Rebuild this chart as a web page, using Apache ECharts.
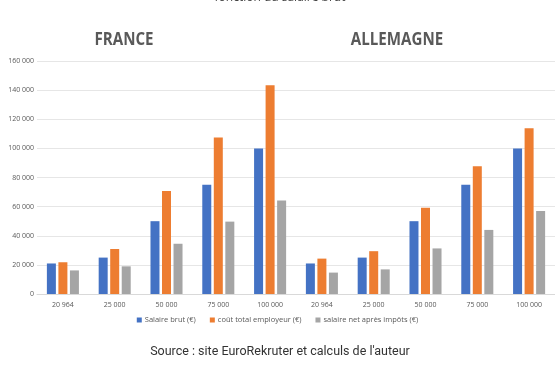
<!DOCTYPE html>
<html><head><meta charset="utf-8">
<script src="https://cdn.jsdelivr.net/npm/echarts@6/dist/echarts.min.js"></script>
<style>html,body{margin:0;padding:0;background:#fff}#c{width:555px;height:370px}</style>
</head><body><div id="c"></div>
<script>
const categories = ['20 964','25 000','50 000','75 000','100 000','20 964','25 000','50 000','75 000','100 000'];
const salaireBrut = [20964,25000,50000,75000,100000,20964,25000,50000,75000,100000];
const coutEmployeur = [21800,30900,70700,107500,143300,24300,29400,59200,87700,113900];
const salaireNet = [16200,19000,34500,49700,64200,14700,16900,31300,44000,57000];
const yTicks = [0,20000,40000,60000,80000,100000,120000,140000,160000];
const seriesNames = ['Salaire brut (€)','coût total employeur (€)','salaire net après impôts (€)'];

const fmt = v => String(v).replace(/\B(?=(\d{3})+(?!\d))/g,' ');
const chart = echarts.init(document.getElementById('c'));
const colors = ['#4472C4','#ED7D31','#A5A5A5'];
const mk = (name, data, i) => ({name, type:'bar', data, barWidth:9, barGap:'28%', itemStyle:{color:colors[i]}});
const headFont = 'bold 18px "Open Sans"';
chart.setOption({
  animation:false,
  textStyle:{fontFamily:'Open Sans'},
  graphic:[
    {type:'text', x:280, y:4, style:{text:'fonction du salaire brut', font:'12px "Open Sans"', fill:'#444', align:'center', verticalAlign:'bottom'}},
    {type:'text', x:124, y:40, scaleX:0.84, style:{text:'FRANCE', font:headFont, fill:'#595959', align:'center', verticalAlign:'middle'}},
    {type:'text', x:397, y:40, scaleX:0.84, style:{text:'ALLEMAGNE', font:headFont, fill:'#595959', align:'center', verticalAlign:'middle'}},
    {type:'text', x:280, y:352, style:{text:"Source : site EuroRekruter et calculs de l'auteur", font:'12.5px Roboto', fill:'#333', align:'center', verticalAlign:'middle'}}
  ],
  legend:{bottom:41, left:'center', itemWidth:5, itemHeight:5, itemGap:14, icon:'rect',
    textStyle:{fontSize:7.5, color:'#595959', padding:[0,0,0,-2]}, data:seriesNames},
  grid:{left:37, right:-2, top:61, bottom:76},
  xAxis:{type:'category', data:categories,
    axisLine:{lineStyle:{color:'#d9d9d9'}}, axisTick:{show:false},
    axisLabel:{fontSize:7, color:'#595959', margin:7}},
  yAxis:{type:'value', min:yTicks[0], max:yTicks[yTicks.length-1], interval:20000,
    axisLine:{show:false}, axisTick:{show:false},
    splitLine:{lineStyle:{color:'#e6e6e6'}},
    axisLabel:{fontSize:7, color:'#595959', margin:3, formatter:fmt}},
  series:[mk(seriesNames[0],salaireBrut,0), mk(seriesNames[1],coutEmployeur,1), mk(seriesNames[2],salaireNet,2)]
});
</script></body></html>
